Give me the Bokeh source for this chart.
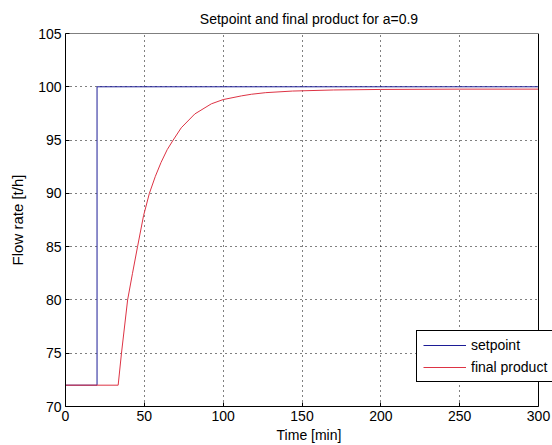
from bokeh.plotting import figure
from bokeh.models import Range1d, FixedTicker, Legend, LegendItem, BoxAnnotation
from bokeh.embed import file_html
from bokeh.resources import INLINE

# ---- data ----
setpoint_t = [0, 20, 20, 300]
setpoint_v = [72, 72, 100, 100]

product_t = [0, 33.4, 35.5, 39.4, 42.5, 45.7, 49.5, 53.2, 57, 60.6, 64.5, 68.3,
             73.4, 82, 92.5, 100, 111.7, 118, 127, 144, 170, 200, 250, 300]
product_v = [72, 72, 75, 80, 82.5, 85, 87.9, 90, 91.6, 92.9, 94.1, 95,
             96.15, 97.45, 98.4, 98.8, 99.15, 99.3, 99.45, 99.6, 99.7, 99.75, 99.78, 99.78]

x_ticks = [0, 50, 100, 150, 200, 250, 300]
y_ticks = [70, 75, 80, 85, 90, 95, 100, 105]

title_text = "Setpoint and final product for a=0.9"
x_label = "Time [min]"
y_label = "Flow rate [t/h]"
series_names = ["setpoint", "final product"]

FONT = "Liberation Sans"

x0, x1 = x_ticks[0], x_ticks[-1]
y0, y1 = y_ticks[0], y_ticks[-1]
# the frame is widened past x=300 so the legend may overhang the axes box (as in the reference)
FIG_W, FIG_H = 552, 445
FRAME_LEFT, BOX_RIGHT = 65, 538
x_end = x1 * (FIG_W - FRAME_LEFT) / (BOX_RIGHT - FRAME_LEFT)

p = figure(width=FIG_W, height=FIG_H, output_backend="svg", toolbar_location=None,
           x_range=Range1d(x0, x_end), y_range=Range1d(y0, y1),
           min_border_left=FRAME_LEFT, min_border_right=0, min_border_top=33,
           min_border_bottom=39, title=title_text)

p.title.text_font = FONT
p.title.text_font_size = "14px"
p.title.text_font_style = "normal"
p.title.align = "center"
p.title.text_color = "black"
p.title.standoff = 14

p.outline_line_color = None
p.background_fill_color = "white"
p.border_fill_color = "white"

for ax in (p.xaxis[0], p.yaxis[0]):
    ax.axis_line_color = "black"
    ax.major_tick_line_color = "black"
    ax.major_tick_in = 4
    ax.major_tick_out = 0
    ax.minor_tick_line_color = None
    ax.major_label_text_font = FONT
    ax.major_label_text_font_size = "14px"
    ax.major_label_text_color = "black"
    ax.axis_label_text_font = FONT
    ax.axis_label_text_font_style = "normal"
    ax.axis_label_text_color = "black"

p.xaxis[0].bounds = (x0, x1)
p.xaxis[0].ticker = FixedTicker(ticks=x_ticks)
p.yaxis[0].ticker = FixedTicker(ticks=y_ticks)
p.xaxis[0].axis_label = x_label
p.yaxis[0].axis_label = y_label
p.xaxis[0].axis_label_text_font_size = "14px"
p.yaxis[0].axis_label_text_font_size = "15px"
p.xaxis[0].major_label_standoff = 4
p.yaxis[0].major_label_standoff = 4
p.xaxis[0].axis_label_standoff = 3
p.yaxis[0].axis_label_standoff = 9

for g in (p.xgrid[0], p.ygrid[0]):
    g.grid_line_color = "black"
    g.grid_line_dash = "1 4"
    g.grid_line_width = 1
    g.grid_line_alpha = 1

r1 = p.line(setpoint_t, setpoint_v, line_color="#1c1c96", line_width=1)
r2 = p.line(product_t, product_v, line_color="#dd3344", line_width=1)

# white cover beyond the axes box, then the box outline
p.add_layout(BoxAnnotation(left=x1, fill_color="white", fill_alpha=1, line_color=None))
p.add_layout(BoxAnnotation(left=x0, right=x1, bottom=y0, top=y1, fill_color=None,
                           fill_alpha=0, line_color="black", line_width=1, line_alpha=1))

legend = Legend(items=[LegendItem(label=series_names[0], renderers=[r1]),
                       LegendItem(label=series_names[1], renderers=[r2])],
                location=(351, 24))
legend.label_text_font = FONT
legend.label_text_font_size = "14px"
legend.label_text_color = "black"
legend.border_line_color = "black"
legend.border_line_width = 1
legend.border_line_alpha = 1
legend.background_fill_alpha = 1
legend.padding = 6
legend.spacing = 6
legend.margin = 0
legend.glyph_width = 43
legend.glyph_height = 16
legend.label_height = 16
legend.label_standoff = 5
p.add_layout(legend, "center")

open("out.html", "w").write(file_html(p, INLINE))
